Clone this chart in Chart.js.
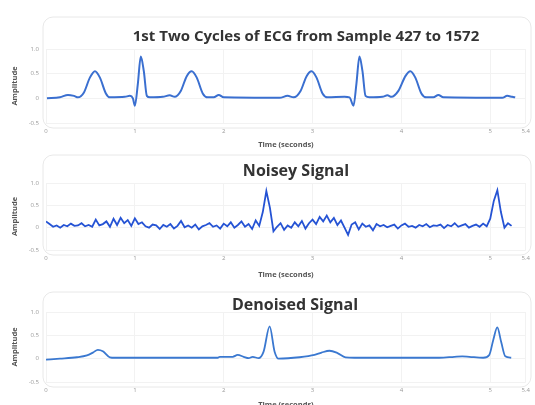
<!DOCTYPE html>
<html>
<head>
<meta charset="utf-8">
<script src="https://cdn.jsdelivr.net/npm/chart.js@4.4.0/dist/chart.umd.min.js"></script>
<style>
  body { margin: 0; background: #fff; overflow: hidden; }
  .box { position: absolute; left: 0; width: 535px; }
</style>
</head>
<body>
<div class="box" style="top:0;height:150px"><canvas id="ecgChart"></canvas></div>
<div class="box" style="top:150px;height:130px"><canvas id="noisyChart"></canvas></div>
<div class="box" style="top:280px;height:130px"><canvas id="denoisedChart"></canvas></div>
<script>
// titles
var titles = ['1st Two Cycles of ECG from Sample 427 to 1572', 'Noisey Signal', 'Denoised Signal'];

// axis ticks
var xTickRange = [0, 5.4];
var yTickRange = [-0.5, 1.0];

// top chart: ECG segment (time in s, amplitude)
var ecgTime = [0.011, 0.157, 0.247, 0.315, 0.36, 0.427, 0.494, 0.551, 0.607, 0.674, 0.719, 0.888, 0.944, 0.978, 1.0,
  1.034, 1.067, 1.101, 1.135, 1.169, 1.315, 1.393, 1.449, 1.517, 1.584, 1.64, 1.697, 1.764, 1.82, 1.888, 1.944, 2.0,
  2.629, 2.719, 2.787, 2.865, 2.933, 2.989, 3.045, 3.112, 3.169, 3.36, 3.416, 3.461, 3.494, 3.528, 3.562, 3.596, 3.64,
  3.787, 3.843, 3.888, 3.966, 4.045, 4.101, 4.157, 4.225, 4.281, 4.36, 4.416, 4.472, 5.135, 5.191, 5.247, 5.281];
var ecgAmp = [0.0, 0.02, 0.07, 0.05, 0.02, 0.12, 0.42, 0.55, 0.42, 0.1, 0.02, 0.03, 0.05, 0.0, -0.15,
  0.3, 0.85, 0.55, 0.05, 0.02, 0.03, 0.06, 0.03, 0.15, 0.45, 0.55, 0.42, 0.1, 0.02, 0.02, 0.07, 0.02,
  0.01, 0.05, 0.02, 0.15, 0.45, 0.55, 0.42, 0.1, 0.02, 0.03, 0.02, -0.15, 0.3, 0.85, 0.55, 0.05, 0.02,
  0.03, 0.06, 0.03, 0.15, 0.45, 0.55, 0.42, 0.1, 0.02, 0.02, 0.07, 0.02, 0.01, 0.05, 0.03, 0.02];

// middle chart: noisy signal, one sample every 0.04 s
var noisyStep = 0.04;
var noisyAmp = [0.14, 0.08, 0.02, 0.05, 0.0, 0.06, 0.03, 0.09, 0.04, 0.05, 0.1, 0.03, 0.06, 0.02,
  0.18, 0.05, 0.08,
  0.14, 0.02, 0.2, 0.06, 0.22, 0.1, 0.17, 0.04, 0.21, 0.08,
  0.12, 0.03, 0.0, 0.07, 0.05, -0.03, 0.06, 0.02, 0.08, -0.02, 0.04,
  0.15,
  0.01, 0.05, 0.0, 0.07, -0.04, 0.03, 0.06, 0.1, 0.02, 0.05, -0.02, 0.09, 0.03, 0.12, 0.0, 0.06, 0.14, 0.02, 0.08, -0.03, 0.16, 0.04,
  0.35, 0.82, 0.45, -0.08,
  0.02, 0.1, -0.05, 0.05, 0.0, 0.12, 0.03, 0.15, -0.02,
  0.1, 0.18, 0.08, 0.24, 0.14, 0.27, 0.12, 0.22, 0.06, 0.16, 0.0,
  -0.16,
  0.07, 0.12, -0.04, 0.09, 0.02, 0.05, -0.06, 0.08, 0.03, 0.06, 0.01, 0.04, 0.07, -0.02, 0.05, 0.09, 0.02, 0.04, 0.0, 0.06,
  0.03, 0.08, 0.01, 0.05, 0.04, 0.07, -0.01, 0.06, 0.03, 0.1, 0.02, 0.05, 0.08, 0.0, 0.04, 0.07, 0.02, 0.09, 0.03,
  0.2, 0.6, 0.84, 0.35, 0.0, 0.1, 0.04];

// bottom chart: denoised signal
var denoisedTime = [0.0, 0.157, 0.348, 0.461, 0.528, 0.584, 0.64, 0.719, 0.775, 1.933, 1.955, 2.101, 2.157, 2.225,
  2.281, 2.326, 2.393, 2.449, 2.517, 2.573, 2.618, 2.854, 3.022, 3.101, 3.191, 3.281, 3.371, 3.472, 4.427, 4.596,
  4.685, 4.764, 4.921, 4.989, 5.034, 5.079, 5.124, 5.169, 5.236];
var denoisedAmp = [-0.02, 0.0, 0.03, 0.07, 0.13, 0.19, 0.16, 0.03, 0.02, 0.02, 0.04, 0.04, 0.08, 0.04,
  0.01, 0.04, 0.01, 0.15, 0.69, 0.15, 0.0, 0.03, 0.08, 0.13, 0.17, 0.12, 0.03, 0.02, 0.02, 0.04,
  0.05, 0.04, 0.02, 0.08, 0.4, 0.67, 0.35, 0.05, 0.02];

Chart.defaults.font.family = "'Open Sans', 'DejaVu Sans', sans-serif";

function toPoints(xs, ys) {
  return ys.map(function (y, i) { return { x: xs[i], y: y }; });
}

var noisyPoints = noisyAmp.map(function (y, i) { return { x: i * noisyStep, y: y }; });

// rounded card behind each plot plus the centred title
var cardPlugin = {
  id: 'card',
  beforeDraw: function (chart, args, opts) {
    var ctx = chart.ctx, a = chart.chartArea;
    var x = a.left - 3, y = opts.top;
    ctx.save();
    ctx.beginPath();
    ctx.roundRect(x, y, 531 - x, a.bottom + 5 - y, 10);
    ctx.fillStyle = '#fff';
    ctx.fill();
    ctx.strokeStyle = '#e8e8e8';
    ctx.lineWidth = 1;
    ctx.stroke();
    ctx.restore();
  },
  afterDraw: function (chart, args, opts) {
    var ctx = chart.ctx;
    ctx.save();
    ctx.font = 'bold ' + opts.size + "px 'Open Sans', 'DejaVu Sans', sans-serif";
    ctx.fillStyle = '#333';
    ctx.textAlign = 'center';
    ctx.textBaseline = 'middle';
    ctx.fillText(opts.text, opts.titleX, opts.titleY);
    ctx.restore();
  }
};

function makeChart(id, points, color, width, layout) {
  var ctx = document.getElementById(id).getContext('2d');
  return new Chart(ctx, {
    type: 'line',
    data: {
      datasets: [{
        data: points,
        borderColor: color,
        borderWidth: width,
        pointRadius: 0,
        fill: false,
        cubicInterpolationMode: layout.smooth ? 'monotone' : 'default',
        tension: 0
      }]
    },
    options: {
      responsive: true,
      maintainAspectRatio: false,
      animation: false,
      layout: { padding: { top: layout.top, right: 8, left: 0, bottom: 0 } },
      plugins: {
        legend: { display: false },
        tooltip: { enabled: false },
        card: { top: layout.cardTop, text: layout.title, titleX: layout.titleX, titleY: layout.titleY, size: layout.titleSize }
      },
      scales: {
        x: {
          type: 'linear',
          min: xTickRange[0],
          max: xTickRange[1],
          ticks: { stepSize: 1, font: { size: 6 }, color: '#9a9a9a', padding: 5, maxRotation: 0 },
          grid: { color: '#f2f2f2', drawTicks: false },
          border: { display: false },
          title: { display: true, text: 'Time (seconds)', font: { size: 7.5, weight: 'bold' }, color: '#555', padding: { top: 2, bottom: 1 } },
          afterFit: function (s) { s.height = layout.xh; }
        },
        y: {
          min: yTickRange[0],
          max: yTickRange[1],
          ticks: {
            stepSize: 0.5, font: { size: 6 }, color: '#9a9a9a', padding: 7,
            callback: function (v) { return v === 0 ? '0' : v.toFixed(1); }
          },
          grid: { color: '#f2f2f2', drawTicks: false },
          border: { display: false },
          title: { display: true, text: 'Amplitude', font: { size: 7.5, weight: 'bold' }, color: '#555', padding: { top: 10, bottom: 0 } },
          afterFit: function (s) { s.width = 46; }
        }
      }
    },
    plugins: [cardPlugin]
  });
}

makeChart('ecgChart', toPoints(ecgTime, ecgAmp), '#3a6fd0', 2,
  { top: 49, xh: 27, cardTop: 17, title: titles[0], titleX: 306, titleY: 37, titleSize: 15, smooth: true });
makeChart('noisyChart', noisyPoints, '#2553d4', 1.8,
  { top: 33, xh: 30, cardTop: 5, title: titles[1], titleX: 296, titleY: 21, titleSize: 16, smooth: false });
makeChart('denoisedChart', toPoints(denoisedTime, denoisedAmp), '#3a78d0', 1.8,
  { top: 32, xh: 28, cardTop: 12, title: titles[2], titleX: 295, titleY: 25, titleSize: 16, smooth: true });
</script>
</body>
</html>
